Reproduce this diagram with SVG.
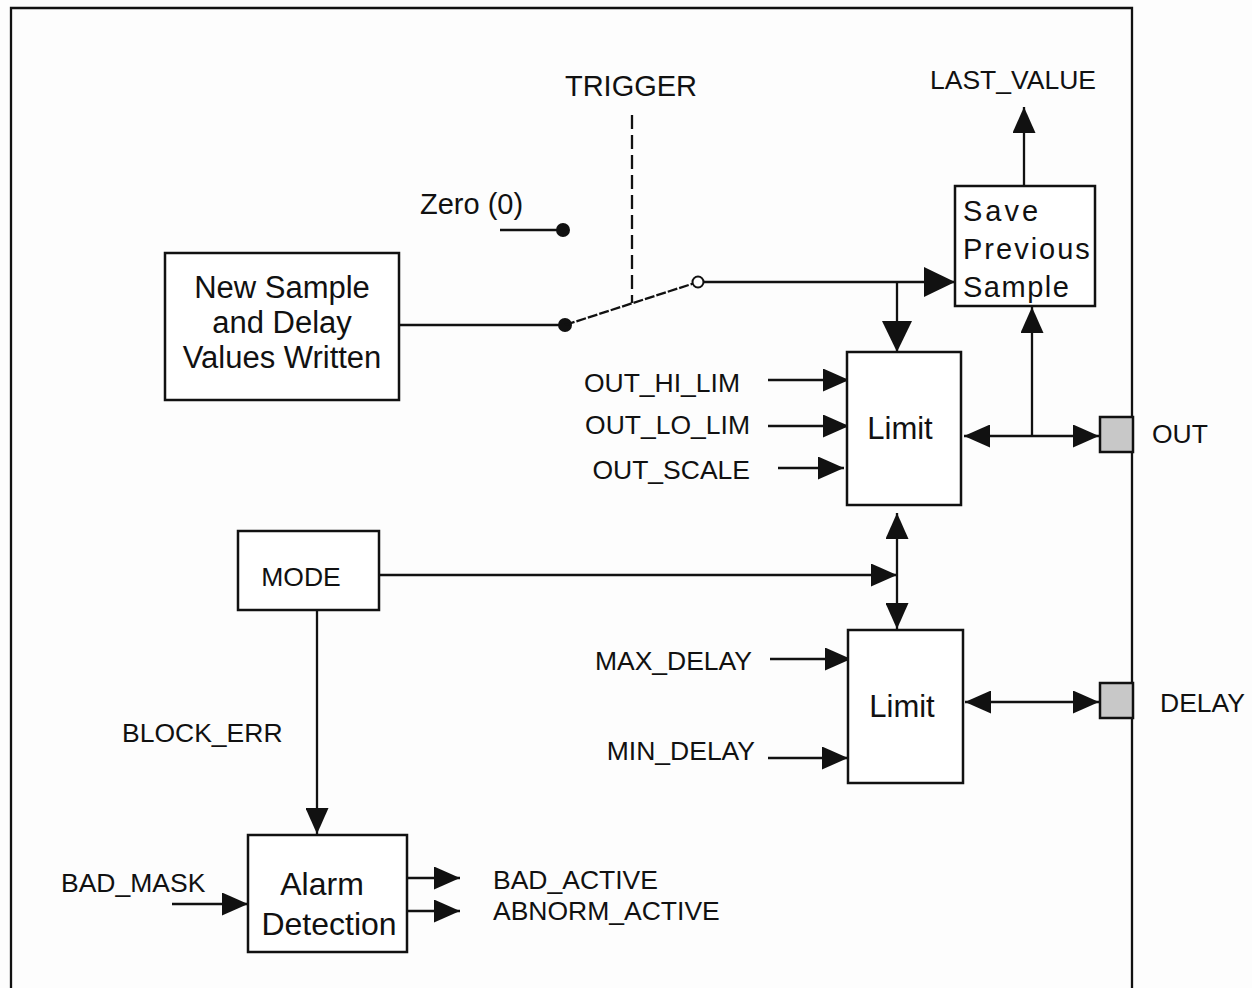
<svg xmlns="http://www.w3.org/2000/svg" width="1252" height="988" viewBox="0 0 1252 988">
<style>
text{font-family:"Liberation Sans",Arial,sans-serif;fill:#111}
.lbl{font-size:26.5px}
.big{font-size:31px}
.box{fill:#fff;stroke:#111;stroke-width:2.5}
.port{fill:#c8c8c8;stroke:#111;stroke-width:2.5}
.ln{fill:none;stroke:#111;stroke-width:2.3}
</style>
<defs>
<marker id="ab" markerUnits="userSpaceOnUse" markerWidth="31" markerHeight="30" refX="31" refY="15" orient="auto" viewBox="0 0 31 30"><path d="M0,0 L31,15 L0,30 z" fill="#111"/></marker>
<marker id="am" markerUnits="userSpaceOnUse" markerWidth="26" markerHeight="23" refX="26" refY="11.5" orient="auto" viewBox="0 0 26 23"><path d="M0,0 L26,11.5 L0,23 z" fill="#111"/></marker>
<marker id="ams" markerUnits="userSpaceOnUse" markerWidth="26" markerHeight="23" refX="0" refY="11.5" orient="auto" viewBox="0 0 26 23"><path d="M26,0 L0,11.5 L26,23 z" fill="#111"/></marker>
</defs>
<rect width="1252" height="988" fill="#fdfdfd"/>
<path class="ln" d="M11,988 V8 H1132 V988" stroke-width="2.5"/>

<g id="connectors">
<path class="ln" d="M399,325 H565"/>
<circle cx="565" cy="325" r="7" fill="#111"/>
<path class="ln" d="M565,325 L698,282" stroke-dasharray="10,2"/>
<circle cx="698" cy="282" r="5.5" fill="#fff" stroke="#111" stroke-width="2"/>
<path class="ln" d="M632,115 V303" stroke-dasharray="14,6"/>
<path class="ln" d="M500,230 H563"/>
<circle cx="563" cy="230" r="7" fill="#111"/>
<path class="ln" d="M704,282 H955" marker-end="url(#ab)"/>
<path class="ln" d="M897,282 V352" marker-end="url(#ab)"/>
<path class="ln" d="M1024,186 V107" marker-end="url(#am)"/>
<path class="ln" d="M768,380 H849" marker-end="url(#am)"/>
<path class="ln" d="M768,426 H849" marker-end="url(#am)"/>
<path class="ln" d="M778,468 H844" marker-end="url(#am)"/>
<path class="ln" d="M964,436 H1099" marker-start="url(#ams)" marker-end="url(#am)"/>
<path class="ln" d="M1032,436 V307" marker-end="url(#am)"/>
<path class="ln" d="M897,513 V629" marker-start="url(#ams)" marker-end="url(#am)"/>
<path class="ln" d="M380,575 H897" marker-end="url(#am)"/>
<path class="ln" d="M770,659 H851" marker-end="url(#am)"/>
<path class="ln" d="M768,758 H848" marker-end="url(#am)"/>
<path class="ln" d="M965,702 H1099" marker-start="url(#ams)" marker-end="url(#am)"/>
<path class="ln" d="M317,610 V834" marker-end="url(#am)"/>
<path class="ln" d="M172,904 H248" marker-end="url(#am)"/>
<path class="ln" d="M407,878 H460" marker-end="url(#am)"/>
<path class="ln" d="M407,911 H460" marker-end="url(#am)"/>
</g>

<g id="new-sample">
<rect class="box" x="165" y="253" width="234" height="147"/>
<text class="big" x="282" y="298" text-anchor="middle">New Sample</text>
<text class="big" x="282" y="333" text-anchor="middle">and Delay</text>
<text class="big" x="282" y="368" text-anchor="middle">Values Written</text>
</g>

<g id="save-previous">
<rect class="box" x="955" y="186" width="140" height="120"/>
<text x="963" y="221" font-size="29" letter-spacing="3">Save</text>
<text x="963" y="259" font-size="29" letter-spacing="2">Previous</text>
<text x="963" y="297" font-size="29" letter-spacing="1.5">Sample</text>
</g>

<g id="limit-out">
<rect class="box" x="847" y="352" width="114" height="153"/>
<text class="big" x="900" y="439" text-anchor="middle">Limit</text>
</g>

<g id="limit-delay">
<rect class="box" x="848" y="630" width="115" height="153"/>
<text class="big" x="902" y="717" text-anchor="middle">Limit</text>
</g>

<g id="mode">
<rect class="box" x="238" y="531" width="141" height="79"/>
<text class="lbl" x="301" y="586" text-anchor="middle">MODE</text>
</g>

<g id="alarm">
<rect class="box" x="248" y="835" width="159" height="117"/>
<text x="322" y="895" text-anchor="middle" font-size="32">Alarm</text>
<text x="329" y="935" text-anchor="middle" font-size="32">Detection</text>
</g>

<g id="out-port">
<rect class="port" x="1100" y="417" width="33" height="35"/>
<text class="lbl" x="1152" y="443">OUT</text>
</g>

<g id="delay-port">
<rect class="port" x="1100" y="683" width="33" height="35"/>
<text class="lbl" x="1160" y="712">DELAY</text>
</g>

<g id="labels">
<text x="631" y="96" text-anchor="middle" font-size="29">TRIGGER</text>
<text class="lbl" x="1013" y="89" text-anchor="middle">LAST_VALUE</text>
<text x="420" y="214" font-size="29">Zero (0)</text>
<text class="lbl" x="740" y="392" text-anchor="end">OUT_HI_LIM</text>
<text class="lbl" x="750" y="434" text-anchor="end">OUT_LO_LIM</text>
<text class="lbl" x="750" y="479" text-anchor="end">OUT_SCALE</text>
<text class="lbl" x="752" y="670" text-anchor="end">MAX_DELAY</text>
<text class="lbl" x="755" y="760" text-anchor="end">MIN_DELAY</text>
<text class="lbl" x="122" y="742">BLOCK_ERR</text>
<text class="lbl" x="61" y="892">BAD_MASK</text>
<text class="lbl" x="493" y="889">BAD_ACTIVE</text>
<text class="lbl" x="493" y="920">ABNORM_ACTIVE</text>
</g>
</svg>
